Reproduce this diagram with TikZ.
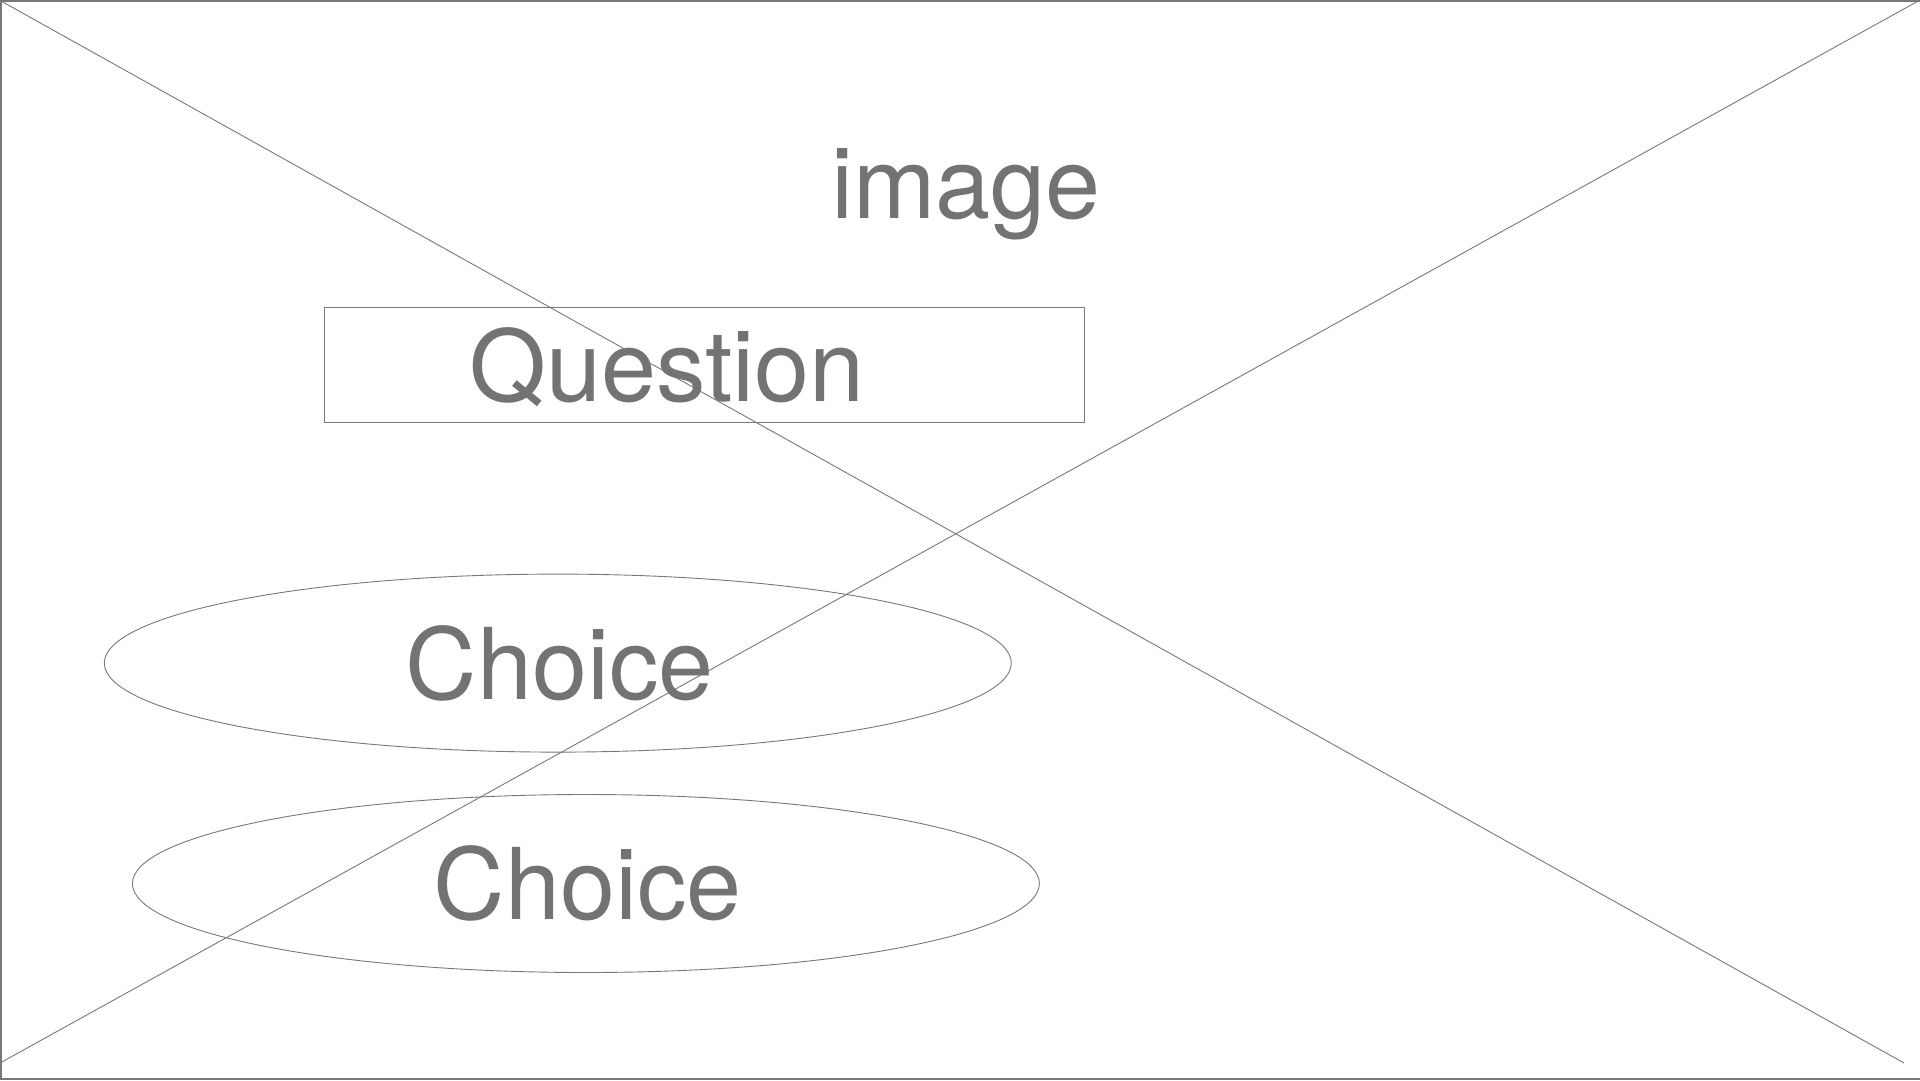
\documentclass[tikz,border=0pt]{standalone}
\usepackage{fontspec}
\setmainfont{TeX Gyre Heros}
\usetikzlibrary{shapes.geometric}
\definecolor{wiregray}{RGB}{120,120,120}
\definecolor{textgray}{RGB}{115,115,115}
\begin{document}
\begin{tikzpicture}[x=1pt, y=-1pt,
    wire/.style={draw=wiregray, line width=0.9pt},
    bigtext/.style={text=textgray, font=\fontsize{99}{120}\selectfont},
    choicebox/.style={wire, ellipse, minimum width=907pt, minimum height=178pt, inner sep=0pt, bigtext}]

    \useasboundingbox (0,0) rectangle (1920,1080);

    \draw [wire, line width=2pt] (1920,1) -- (1,1) -- (1,1079) -- (1920,1079);

    \coordinate (topleft) at (1,1);
    \coordinate (botright) at (1904,1063);
    \coordinate (topright) at (1920,0);
    \coordinate (botleft) at (0,1063);
    \draw [wire] (topleft) -- (botright);
    \draw [wire] (topright) -- (botleft);

    \node [bigtext, anchor=base] (imagetext) at (966,218) {image};

    \node [wire, minimum width=760pt, minimum height=115pt, inner sep=0pt] (questionbox) at (704.7,365) {};
    \node [bigtext, anchor=base] (question) at (667,401.6) {Question};

    \node [choicebox] (choiceone) at (557.8,663.1) {\hspace*{4pt}Choice};
    \node [choicebox] (choicetwo) at (585.9,883.5) {\hspace*{4pt}Choice};

\end{tikzpicture}
\end{document}
